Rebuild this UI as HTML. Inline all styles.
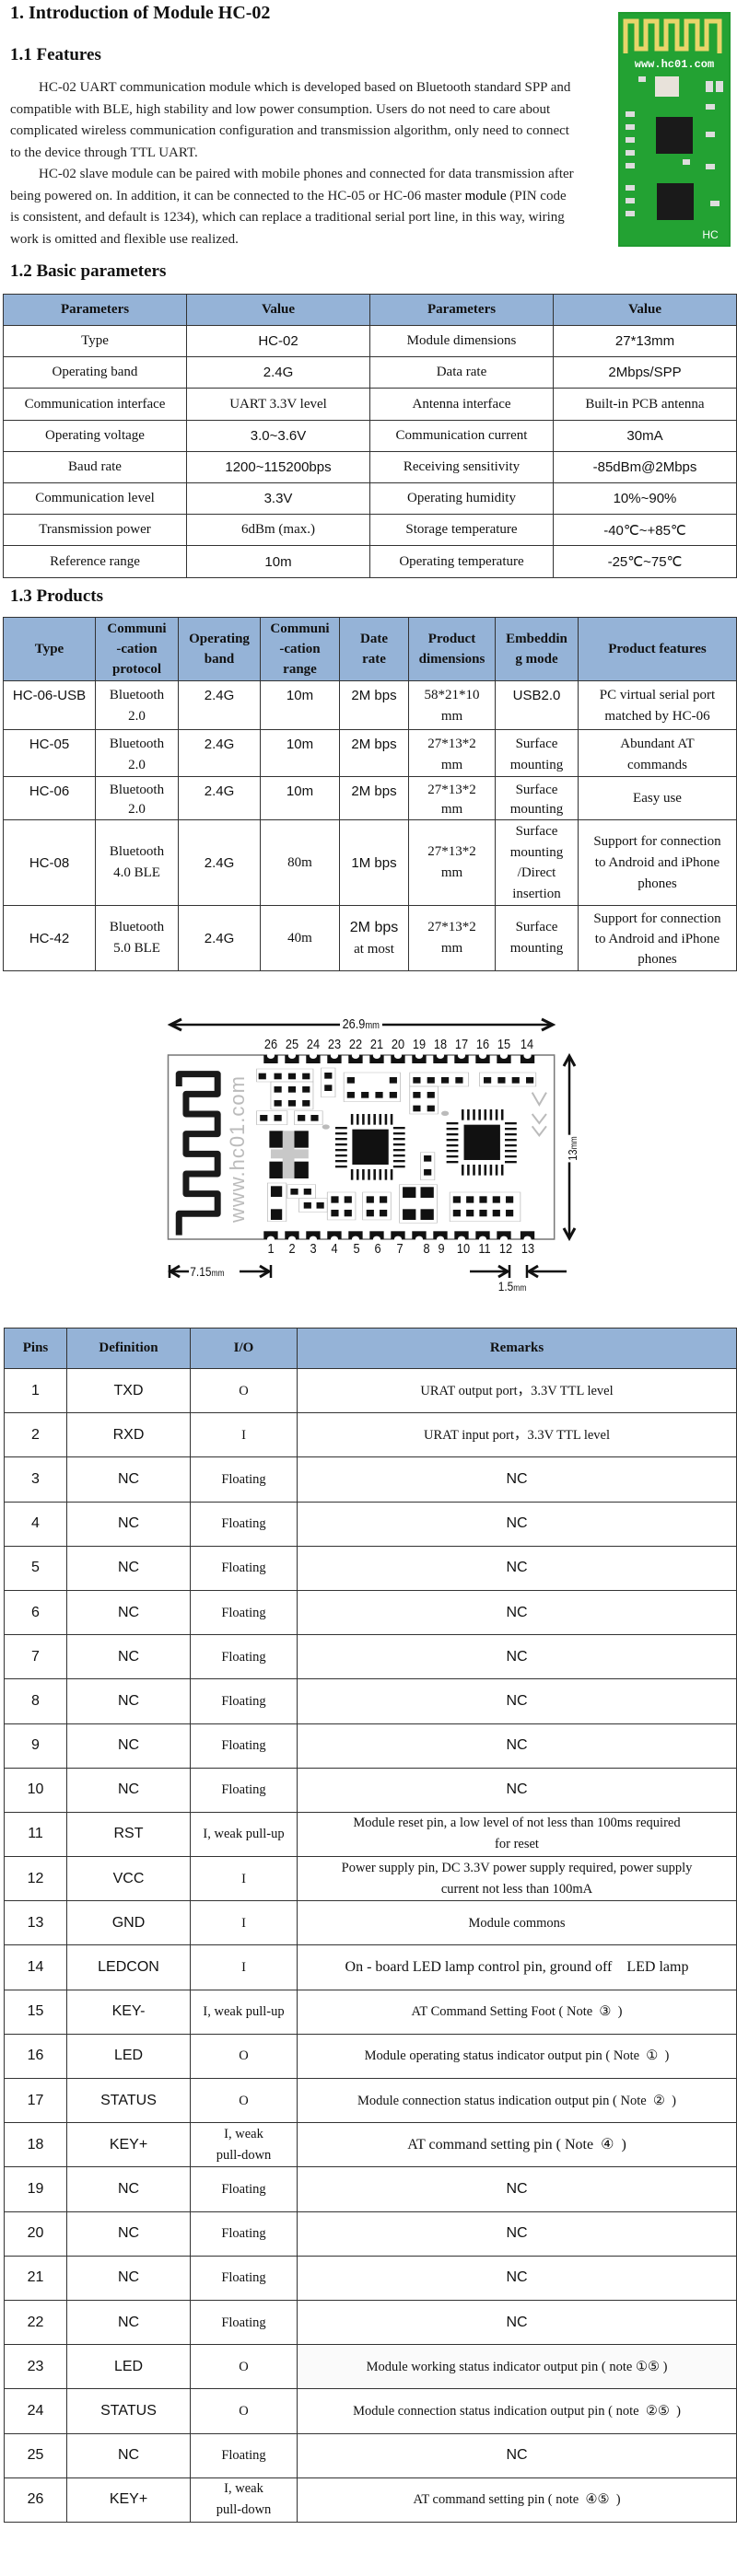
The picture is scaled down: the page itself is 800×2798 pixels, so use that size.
<!DOCTYPE html>
<html><head><meta charset="utf-8"><style>
*{margin:0;padding:0;box-sizing:border-box}
body{width:800px;height:2798px;background:#fff;position:relative;overflow:hidden;font-family:"Liberation Serif",serif;color:#111}
.abs{position:absolute}
h1,h2{position:absolute;font-family:"Liberation Serif",serif;font-weight:bold;white-space:nowrap;left:11px}
h1{font-size:20px}
h2{font-size:19px}
.para{position:absolute;left:11px;font-size:15px;line-height:23.5px;white-space:nowrap;color:#222}
table{position:absolute;border-collapse:collapse;table-layout:fixed;left:3px;width:796px}
td,th{border:1.5px solid #333;text-align:center;vertical-align:middle;overflow:hidden}
th{background:#95b3d7;font-weight:bold;font-size:15px}
.s{font-family:"Liberation Sans",sans-serif;font-size:16px}
.t1 td{font-size:15px}
.t2 th{line-height:22px;font-size:15px}
.t2 td{font-size:15px;line-height:23px}
.top td{vertical-align:top;padding-top:4px}
.t3 td{font-size:14.5px;line-height:22px}
.t3 td.s{font-size:16px}
.num{position:absolute;font-family:"Liberation Sans",sans-serif;font-size:15px;transform:translateX(-50%) scaleX(0.85);top:0}
.lab{position:absolute;font-family:"Liberation Sans",sans-serif;font-size:13px;background:#fff;white-space:nowrap;transform:scaleX(0.85)}
</style></head><body>

<h1 style="top:3px">1. Introduction of Module HC-02</h1>
<h2 style="top:49px">1.1 Features</h2>
<div class="para" style="top:84px">
<span style="padding-left:31px"></span>HC-02 UART communication module which is developed based on Bluetooth standard SPP and<br>
compatible with BLE, high stability and low power consumption. Users do not need to care about<br>
complicated wireless communication configuration and transmission algorithm, only need to connect<br>
to the device through TTL UART.<br>
<span style="padding-left:31px"></span>HC-02 slave module can be paired with mobile phones and connected for data transmission after<br>
being powered on. In addition, it can be connected to the HC-05 or HC-06 master <b style="font-weight:normal;color:#000">module</b> (PIN code<br>
is consistent, and default is 1234), which can replace a traditional serial port line, in this way, wiring<br>
work is omitted and flexible use realized.
</div>

<svg class="abs" style="left:671px;top:13px" width="122" height="255" viewBox="0 0 122 255">
<rect x="0" y="0" width="122" height="255" fill="#1f9a2e"/>
<rect x="2" y="2" width="118" height="251" fill="#23a233"/>
<path d="M8,45 V10 H20 V40 H30 V10 H42 V40 H52 V10 H64 V40 H74 V10 H86 V40 H96 V10 H110 V45" fill="none" stroke="#e8d56a" stroke-width="5"/>
<text x="61" y="60" font-family="Liberation Mono,monospace" font-size="12" font-weight="bold" fill="#fff" text-anchor="middle">www.hc01.com</text>
<rect x="40" y="70" width="26" height="22" fill="#e8e2da"/>
<rect x="41" y="114" width="40" height="40" fill="#1a1a1a"/>
<rect x="42" y="186" width="40" height="40" fill="#1a1a1a"/>
<g fill="#ddd">
<rect x="8" y="108" width="10" height="6"/><rect x="8" y="122" width="10" height="6"/><rect x="8" y="136" width="10" height="6"/><rect x="8" y="150" width="10" height="6"/><rect x="8" y="164" width="10" height="6"/>
<rect x="8" y="188" width="10" height="6"/><rect x="8" y="202" width="10" height="6"/><rect x="8" y="216" width="10" height="6"/>
<rect x="95" y="75" width="8" height="12"/><rect x="106" y="75" width="8" height="12"/><rect x="95" y="100" width="10" height="6"/><rect x="95" y="130" width="10" height="6"/><rect x="95" y="165" width="10" height="6"/><rect x="100" y="205" width="10" height="6"/>
<rect x="22" y="70" width="8" height="6"/><rect x="70" y="160" width="8" height="6"/>
</g>
<text x="100" y="246" font-family="Liberation Sans,sans-serif" font-size="12" fill="#fff" text-anchor="middle">HC</text>
</svg>

<h2 style="top:284px">1.2 Basic parameters</h2>
<table class="t1" style="top:319px">
<colgroup><col style="width:199px"><col style="width:199px"><col style="width:199px"><col style="width:199px"></colgroup>
<tr style="height:34px"><th>Parameters</th><th>Value</th><th>Parameters</th><th>Value</th></tr>
<tr style="height:34px"><td>Type</td><td class="s">HC-02</td><td>Module dimensions</td><td class="s">27*13mm</td></tr>
<tr style="height:34px"><td>Operating band</td><td class="s">2.4G</td><td>Data rate</td><td class="s">2Mbps/SPP</td></tr>
<tr style="height:35px"><td>Communication interface</td><td>UART 3.3V level</td><td>Antenna interface</td><td>Built-in PCB antenna</td></tr>
<tr style="height:34px"><td>Operating voltage</td><td class="s">3.0~3.6V</td><td>Communication current</td><td class="s">30mA</td></tr>
<tr style="height:34px"><td>Baud rate</td><td class="s">1200~115200bps</td><td>Receiving sensitivity</td><td class="s">-85dBm@2Mbps</td></tr>
<tr style="height:34px"><td>Communication level</td><td class="s">3.3V</td><td>Operating humidity</td><td class="s">10%~90%</td></tr>
<tr style="height:34px"><td>Transmission power</td><td>6dBm (max.)</td><td>Storage temperature</td><td class="s">-40℃~+85℃</td></tr>
<tr style="height:35px"><td>Reference range</td><td class="s">10m</td><td>Operating temperature</td><td class="s">-25℃~75℃</td></tr>
</table>

<h2 style="top:637px">1.3 Products</h2>
<table class="t2" style="top:670px">
<colgroup><col style="width:100px"><col style="width:90px"><col style="width:89px"><col style="width:86px"><col style="width:75px"><col style="width:94px"><col style="width:90px"><col style="width:172px"></colgroup>
<tr style="height:69px"><th>Type</th><th>Communi<br>-cation<br>protocol</th><th>Operating<br>band</th><th>Communi<br>-cation<br>range</th><th>Date<br>rate</th><th>Product<br>dimensions</th><th>Embeddin<br>g mode</th><th>Product features</th></tr>
<tr class="top" style="height:53px"><td class="s">HC-06-USB</td><td>Bluetooth<br>2.0</td><td class="s">2.4G</td><td class="s">10m</td><td class="s">2M bps</td><td>58*21*10<br>mm</td><td class="s">USB2.0</td><td>PC virtual serial port<br>matched by HC-06</td></tr>
<tr class="top" style="height:48px"><td class="s">HC-05</td><td>Bluetooth<br>2.0</td><td class="s">2.4G</td><td class="s">10m</td><td class="s">2M bps</td><td>27*13*2<br>mm</td><td>Surface<br>mounting</td><td>Abundant AT<br>commands</td></tr>
<tr class="top" style="height:46px"><td class="s">HC-06</td><td style="line-height:21px">Bluetooth<br>2.0</td><td class="s">2.4G</td><td class="s">10m</td><td class="s">2M bps</td><td style="line-height:21px">27*13*2<br>mm</td><td style="line-height:21px">Surface<br>mounting</td><td style="vertical-align:middle;padding:0">Easy use</td></tr>
<tr style="height:93px"><td class="s">HC-08</td><td>Bluetooth<br>4.0 BLE</td><td class="s">2.4G</td><td>80m</td><td class="s">1M bps</td><td>27*13*2<br>mm</td><td style="line-height:22.5px">Surface<br>mounting<br>/Direct<br>insertion</td><td>Support for connection<br>to Android and iPhone<br>phones</td></tr>
<tr style="height:71px"><td class="s">HC-42</td><td>Bluetooth<br>5.0 BLE</td><td class="s">2.4G</td><td>40m</td><td><span class="s">2M bps</span><br>at most</td><td>27*13*2<br>mm</td><td>Surface<br>mounting</td><td style="line-height:22px;padding-top:2px">Support for connection<br>to Android and iPhone<br>phones</td></tr>
</table>

<svg class="abs" style="left:0;top:1100px" width="800" height="360" viewBox="0 0 800 360">
<g transform="scale(0.5112,0.3333)">
<rect x="357" y="138" width="820" height="600" fill="#fff" stroke="#777" stroke-width="1.5" vector-effect="non-scaling-stroke"/>
<g fill="#111">
<rect x="560" y="138" width="30" height="27"/><rect x="605" y="138" width="30" height="27"/><rect x="650" y="138" width="30" height="27"/><rect x="695" y="138" width="30" height="27"/><rect x="740" y="138" width="30" height="27"/><rect x="785" y="138" width="30" height="27"/><rect x="830" y="138" width="30" height="27"/><rect x="875" y="138" width="30" height="27"/><rect x="920" y="138" width="30" height="27"/><rect x="965" y="138" width="30" height="27"/><rect x="1010" y="138" width="30" height="27"/><rect x="1055" y="138" width="30" height="27"/><rect x="1105" y="138" width="30" height="27"/>
<rect x="560" y="712" width="30" height="26"/><rect x="605" y="712" width="30" height="26"/><rect x="650" y="712" width="30" height="26"/><rect x="695" y="712" width="30" height="26"/><rect x="740" y="712" width="30" height="26"/><rect x="785" y="712" width="30" height="26"/><rect x="830" y="712" width="30" height="26"/><rect x="875" y="712" width="30" height="26"/><rect x="920" y="712" width="30" height="26"/><rect x="965" y="712" width="30" height="26"/><rect x="1010" y="712" width="30" height="26"/><rect x="1055" y="712" width="30" height="26"/><rect x="1105" y="712" width="30" height="26"/>
</g>
<g fill="#fff">
<ellipse cx="575" cy="140" rx="8" ry="10"/><ellipse cx="620" cy="140" rx="8" ry="10"/><ellipse cx="665" cy="140" rx="8" ry="10"/><ellipse cx="710" cy="140" rx="8" ry="10"/><ellipse cx="755" cy="140" rx="8" ry="10"/><ellipse cx="800" cy="140" rx="8" ry="10"/><ellipse cx="845" cy="140" rx="8" ry="10"/><ellipse cx="890" cy="140" rx="8" ry="10"/><ellipse cx="935" cy="140" rx="8" ry="10"/><ellipse cx="980" cy="140" rx="8" ry="10"/><ellipse cx="1025" cy="140" rx="8" ry="10"/><ellipse cx="1070" cy="140" rx="8" ry="10"/><ellipse cx="1120" cy="140" rx="8" ry="10"/>
<ellipse cx="575" cy="738" rx="8" ry="10"/><ellipse cx="620" cy="738" rx="8" ry="10"/><ellipse cx="665" cy="738" rx="8" ry="10"/><ellipse cx="710" cy="738" rx="8" ry="10"/><ellipse cx="755" cy="738" rx="8" ry="10"/><ellipse cx="800" cy="738" rx="8" ry="10"/><ellipse cx="845" cy="738" rx="8" ry="10"/><ellipse cx="890" cy="738" rx="8" ry="10"/><ellipse cx="935" cy="738" rx="8" ry="10"/><ellipse cx="980" cy="738" rx="8" ry="10"/><ellipse cx="1025" cy="738" rx="8" ry="10"/><ellipse cx="1070" cy="738" rx="8" ry="10"/><ellipse cx="1120" cy="738" rx="8" ry="10"/>
</g>
<path d="M380,725 V655 H462 V590 H395 V525 H462 V460 H395 V395 H462 V330 H395 V265 H462 V200 H380 V240" fill="none" stroke="#1a1a1a" stroke-width="7" stroke-linejoin="round" vector-effect="non-scaling-stroke"/>
<g fill="none" stroke="#bbb" stroke-width="1.5" vector-effect="non-scaling-stroke">
<rect x="545" y="183" width="120" height="42"/><rect x="575" y="225" width="90" height="90"/><rect x="545" y="320" width="65" height="45"/><rect x="625" y="320" width="60" height="45"/>
<rect x="682" y="180" width="30" height="95"/><rect x="730" y="195" width="120" height="95"/><rect x="870" y="195" width="125" height="45"/><rect x="870" y="240" width="60" height="90"/><rect x="1018" y="195" width="120" height="45"/>
<rect x="568" y="555" width="40" height="125"/><rect x="610" y="560" width="60" height="45"/><rect x="635" y="605" width="60" height="45"/><rect x="695" y="585" width="60" height="90"/><rect x="770" y="585" width="60" height="90"/><rect x="848" y="560" width="80" height="125"/><rect x="955" y="585" width="150" height="95"/><rect x="893" y="455" width="30" height="90"/>
</g>
<g fill="#111">
<rect x="549" y="197" width="16" height="20"/><rect x="582" y="197" width="16" height="20"/><rect x="612" y="197" width="16" height="20"/><rect x="642" y="197" width="16" height="20"/><rect x="689" y="195" width="16" height="20"/><rect x="689" y="235" width="16" height="20"/>
<rect x="582" y="240" width="16" height="20"/><rect x="612" y="240" width="16" height="20"/><rect x="642" y="240" width="16" height="20"/><rect x="582" y="285" width="16" height="20"/><rect x="612" y="285" width="16" height="20"/><rect x="642" y="285" width="16" height="20"/>
<rect x="552" y="333" width="16" height="20"/><rect x="582" y="333" width="16" height="20"/><rect x="632" y="333" width="16" height="20"/><rect x="660" y="333" width="16" height="20"/>
<rect x="737" y="210" width="16" height="20"/><rect x="827" y="210" width="16" height="20"/><rect x="737" y="258" width="16" height="20"/><rect x="767" y="258" width="16" height="20"/><rect x="797" y="258" width="16" height="20"/><rect x="827" y="258" width="16" height="20"/>
<rect x="877" y="210" width="16" height="20"/><rect x="907" y="210" width="16" height="20"/><rect x="937" y="210" width="16" height="20"/><rect x="967" y="210" width="16" height="20"/><rect x="877" y="258" width="16" height="20"/><rect x="907" y="258" width="16" height="20"/><rect x="877" y="302" width="16" height="20"/><rect x="907" y="302" width="16" height="20"/>
<rect x="1027" y="210" width="16" height="20"/><rect x="1057" y="210" width="16" height="20"/><rect x="1087" y="210" width="16" height="20"/><rect x="1117" y="210" width="16" height="20"/>
<rect x="572" y="385" width="30" height="55"/><rect x="625" y="385" width="30" height="55"/><rect x="572" y="485" width="30" height="55"/><rect x="625" y="485" width="30" height="55"/>
<rect x="575" y="565" width="24" height="35"/><rect x="575" y="640" width="24" height="35"/><rect x="617" y="573" width="16" height="20"/><rect x="645" y="573" width="16" height="20"/><rect x="645" y="618" width="16" height="20"/><rect x="672" y="618" width="16" height="20"/>
<rect x="703" y="598" width="16" height="22"/><rect x="731" y="598" width="16" height="22"/><rect x="703" y="642" width="16" height="22"/><rect x="731" y="642" width="16" height="22"/>
<rect x="778" y="598" width="16" height="22"/><rect x="806" y="598" width="16" height="22"/><rect x="778" y="642" width="16" height="22"/><rect x="806" y="642" width="16" height="22"/>
<rect x="855" y="568" width="28" height="35"/><rect x="893" y="568" width="28" height="35"/><rect x="855" y="640" width="28" height="35"/><rect x="893" y="640" width="28" height="35"/>
<rect x="962" y="598" width="16" height="22"/><rect x="990" y="598" width="16" height="22"/><rect x="1018" y="598" width="16" height="22"/><rect x="1046" y="598" width="16" height="22"/><rect x="1074" y="598" width="16" height="22"/>
<rect x="962" y="642" width="16" height="22"/><rect x="990" y="642" width="16" height="22"/><rect x="1018" y="642" width="16" height="22"/><rect x="1046" y="642" width="16" height="22"/><rect x="1074" y="642" width="16" height="22"/>
<rect x="900" y="465" width="16" height="20"/><rect x="900" y="510" width="16" height="20"/>
</g>
<rect x="575" y="445" width="80" height="30" fill="#c8c8c8"/><rect x="600" y="385" width="25" height="155" fill="#c8c8c8"/>
<circle cx="692" cy="372" r="8" fill="#bbb"/><circle cx="945" cy="328" r="8" fill="#bbb"/>
<rect x="748" y="380" width="77" height="115" fill="#111"/>
<g fill="#111">
<rect x="745" y="330" width="5" height="35"/><rect x="757" y="330" width="5" height="35"/><rect x="769" y="330" width="5" height="35"/><rect x="781" y="330" width="5" height="35"/><rect x="793" y="330" width="5" height="35"/><rect x="805" y="330" width="5" height="35"/><rect x="817" y="330" width="5" height="35"/><rect x="829" y="330" width="5" height="35"/>
<rect x="745" y="510" width="5" height="35"/><rect x="757" y="510" width="5" height="35"/><rect x="769" y="510" width="5" height="35"/><rect x="781" y="510" width="5" height="35"/><rect x="793" y="510" width="5" height="35"/><rect x="805" y="510" width="5" height="35"/><rect x="817" y="510" width="5" height="35"/><rect x="829" y="510" width="5" height="35"/>
<rect x="712" y="372" width="25" height="7"/><rect x="712" y="390" width="25" height="7"/><rect x="712" y="408" width="25" height="7"/><rect x="712" y="426" width="25" height="7"/><rect x="712" y="444" width="25" height="7"/><rect x="712" y="462" width="25" height="7"/><rect x="712" y="480" width="25" height="7"/><rect x="712" y="498" width="25" height="7"/>
<rect x="835" y="372" width="25" height="7"/><rect x="835" y="390" width="25" height="7"/><rect x="835" y="408" width="25" height="7"/><rect x="835" y="426" width="25" height="7"/><rect x="835" y="444" width="25" height="7"/><rect x="835" y="462" width="25" height="7"/><rect x="835" y="480" width="25" height="7"/><rect x="835" y="498" width="25" height="7"/>
</g>
<rect x="985" y="365" width="77" height="115" fill="#111"/>
<g fill="#111">
<rect x="980" y="315" width="5" height="35"/><rect x="992" y="315" width="5" height="35"/><rect x="1004" y="315" width="5" height="35"/><rect x="1016" y="315" width="5" height="35"/><rect x="1028" y="315" width="5" height="35"/><rect x="1040" y="315" width="5" height="35"/><rect x="1052" y="315" width="5" height="35"/><rect x="1064" y="315" width="5" height="35"/>
<rect x="980" y="495" width="5" height="35"/><rect x="992" y="495" width="5" height="35"/><rect x="1004" y="495" width="5" height="35"/><rect x="1016" y="495" width="5" height="35"/><rect x="1028" y="495" width="5" height="35"/><rect x="1040" y="495" width="5" height="35"/><rect x="1052" y="495" width="5" height="35"/><rect x="1064" y="495" width="5" height="35"/>
<rect x="948" y="357" width="25" height="7"/><rect x="948" y="375" width="25" height="7"/><rect x="948" y="393" width="25" height="7"/><rect x="948" y="411" width="25" height="7"/><rect x="948" y="429" width="25" height="7"/><rect x="948" y="447" width="25" height="7"/><rect x="948" y="465" width="25" height="7"/><rect x="948" y="483" width="25" height="7"/>
<rect x="1072" y="357" width="25" height="7"/><rect x="1072" y="375" width="25" height="7"/><rect x="1072" y="393" width="25" height="7"/><rect x="1072" y="411" width="25" height="7"/><rect x="1072" y="429" width="25" height="7"/><rect x="1072" y="447" width="25" height="7"/><rect x="1072" y="465" width="25" height="7"/><rect x="1072" y="483" width="25" height="7"/>
</g>
<path d="M1130,260 L1145,300 L1160,260 M1130,330 L1145,360 L1160,330 M1130,370 L1145,400 L1160,370" fill="none" stroke="#bbb" stroke-width="2" vector-effect="non-scaling-stroke"/>
</g>
<g stroke="#111" fill="none" stroke-width="2.5">
<line x1="185" y1="13" x2="600" y2="13"/>
<polyline points="197,7 185,13 197,19" stroke-width="3"/>
<polyline points="588,7 600,13 588,19" stroke-width="3"/>
<line x1="618" y1="47" x2="618" y2="245"/>
<polyline points="612,58 618,47 624,58" stroke-width="3"/>
<polyline points="612,234 618,245 624,234" stroke-width="3"/>
<line x1="185" y1="281" x2="205" y2="281"/>
<polyline points="195,275 185,281 195,287" stroke-width="3"/>
<line x1="184" y1="274" x2="184" y2="288"/>
<line x1="260" y1="281" x2="292" y2="281"/>
<polyline points="282,275 292,281 282,287" stroke-width="3"/>
<line x1="294" y1="274" x2="294" y2="288"/>
<line x1="510" y1="281" x2="551" y2="281"/>
<polyline points="541,275 551,281 541,287" stroke-width="3"/>
<line x1="553" y1="274" x2="553" y2="288"/>
<line x1="574" y1="281" x2="615" y2="281"/>
<polyline points="584,275 574,281 584,287" stroke-width="3"/>
<line x1="572" y1="274" x2="572" y2="288"/>
</g>
</svg>
<div class="lab" style="left:365px;top:1104px;padding:0 3px;font-size:15px">26.9<span style="font-size:11px">mm</span></div>
<div class="lab" style="left:604px;top:1240px;transform:rotate(-90deg) scaleX(0.85);font-size:13px;padding:0 2px">13<span style="font-size:10px">mm</span></div>
<div class="lab" style="left:203px;top:1373px;font-size:14px">7.15<span style="font-size:10px">mm</span></div>
<div class="lab" style="left:538px;top:1389px;font-size:14px">1.5<span style="font-size:10px">mm</span></div>
<div class="abs" style="left:0;top:1126px;width:800px;height:20px">
<span class="num" style="left:294px">26</span><span class="num" style="left:317px">25</span><span class="num" style="left:340px">24</span><span class="num" style="left:363px">23</span><span class="num" style="left:386px">22</span><span class="num" style="left:409px">21</span><span class="num" style="left:432px">20</span><span class="num" style="left:455px">19</span><span class="num" style="left:478px">18</span><span class="num" style="left:501px">17</span><span class="num" style="left:524px">16</span><span class="num" style="left:547px">15</span><span class="num" style="left:572px">14</span>
</div>
<div class="abs" style="left:0;top:1348px;width:800px;height:20px">
<span class="num" style="left:294px">1</span><span class="num" style="left:317px">2</span><span class="num" style="left:340px">3</span><span class="num" style="left:363px">4</span><span class="num" style="left:387px">5</span><span class="num" style="left:410px">6</span><span class="num" style="left:434px">7</span><span class="num" style="left:463px">8</span><span class="num" style="left:479px">9</span><span class="num" style="left:503px">10</span><span class="num" style="left:526px">11</span><span class="num" style="left:549px">12</span><span class="num" style="left:573px">13</span>
</div>
<div class="abs" style="left:246px;top:1160px;width:24px;height:175px">
<div style="position:absolute;left:50%;top:50%;transform:translate(-50%,-50%) rotate(-90deg);font-family:'Liberation Sans',sans-serif;font-size:22px;color:#bbb;white-space:nowrap;letter-spacing:1px">www.hc01.com</div>
</div>

<table class="t3" style="top:1442px;left:4px;width:795px">
<colgroup><col style="width:68px"><col style="width:134px"><col style="width:116px"><col style="width:477px"></colgroup>
<tr style="height:44px"><th>Pins</th><th>Definition</th><th>I/O</th><th>Remarks</th></tr>
<tr style="height:48.2px"><td class="s">1</td><td class="s">TXD</td><td>O</td><td>URAT output port，3.3V TTL level</td></tr>
<tr style="height:48.2px"><td class="s">2</td><td class="s">RXD</td><td>I</td><td>URAT input port，3.3V TTL level</td></tr>
<tr style="height:48.2px"><td class="s">3</td><td class="s">NC</td><td>Floating</td><td class="s">NC</td></tr>
<tr style="height:48.2px"><td class="s">4</td><td class="s">NC</td><td>Floating</td><td class="s">NC</td></tr>
<tr style="height:48.2px"><td class="s">5</td><td class="s">NC</td><td>Floating</td><td class="s">NC</td></tr>
<tr style="height:48.2px"><td class="s">6</td><td class="s">NC</td><td>Floating</td><td class="s">NC</td></tr>
<tr style="height:48.2px"><td class="s">7</td><td class="s">NC</td><td>Floating</td><td class="s">NC</td></tr>
<tr style="height:48.2px"><td class="s">8</td><td class="s">NC</td><td>Floating</td><td class="s">NC</td></tr>
<tr style="height:48.2px"><td class="s">9</td><td class="s">NC</td><td>Floating</td><td class="s">NC</td></tr>
<tr style="height:48.2px"><td class="s">10</td><td class="s">NC</td><td>Floating</td><td class="s">NC</td></tr>
<tr style="height:48.2px"><td class="s">11</td><td class="s">RST</td><td>I, weak pull-up</td><td style="line-height:23px">Module reset pin, a low level of not less than 100ms required<br>for reset</td></tr>
<tr style="height:48.2px"><td class="s">12</td><td class="s">VCC</td><td>I</td><td style="line-height:23px">Power supply pin, DC 3.3V power supply required, power supply<br>current not less than 100mA</td></tr>
<tr style="height:48.2px"><td class="s">13</td><td class="s">GND</td><td>I</td><td>Module commons</td></tr>
<tr style="height:48.2px"><td class="s">14</td><td class="s">LEDCON</td><td>I</td><td style="font-size:16px">On - board LED lamp control pin, ground off&nbsp;&nbsp;&nbsp; LED lamp</td></tr>
<tr style="height:48.2px"><td class="s">15</td><td class="s">KEY-</td><td>I, weak pull-up</td><td>AT Command Setting Foot ( Note &nbsp;③ &nbsp;)</td></tr>
<tr style="height:48.2px"><td class="s">16</td><td class="s">LED</td><td>O</td><td>Module operating status indicator output pin ( Note &nbsp;① &nbsp;)</td></tr>
<tr style="height:48.2px"><td class="s">17</td><td class="s">STATUS</td><td>O</td><td>Module connection status indication output pin ( Note &nbsp;② &nbsp;)</td></tr>
<tr style="height:48.2px"><td class="s">18</td><td class="s">KEY+</td><td style="line-height:23px">I, weak<br>pull-down</td><td style="font-size:16px">AT command setting pin ( Note &nbsp;④ &nbsp;)</td></tr>
<tr style="height:48.2px"><td class="s">19</td><td class="s">NC</td><td>Floating</td><td class="s">NC</td></tr>
<tr style="height:48.2px"><td class="s">20</td><td class="s">NC</td><td>Floating</td><td class="s">NC</td></tr>
<tr style="height:48.2px"><td class="s">21</td><td class="s">NC</td><td>Floating</td><td class="s">NC</td></tr>
<tr style="height:48.2px"><td class="s">22</td><td class="s">NC</td><td>Floating</td><td class="s">NC</td></tr>
<tr style="height:48.2px"><td class="s">23</td><td class="s">LED</td><td>O</td><td style="background:#fafafa">Module working status indicator output pin ( note ①⑤ )</td></tr>
<tr style="height:48.2px"><td class="s">24</td><td class="s">STATUS</td><td>O</td><td>Module connection status indication output pin ( note &nbsp;②⑤ &nbsp;)</td></tr>
<tr style="height:48.2px"><td class="s">25</td><td class="s">NC</td><td>Floating</td><td class="s">NC</td></tr>
<tr style="height:48.2px"><td class="s">26</td><td class="s">KEY+</td><td style="line-height:23px">I, weak<br>pull-down</td><td>AT command setting pin ( note &nbsp;④⑤ &nbsp;)</td></tr>
</table>
</body></html>
